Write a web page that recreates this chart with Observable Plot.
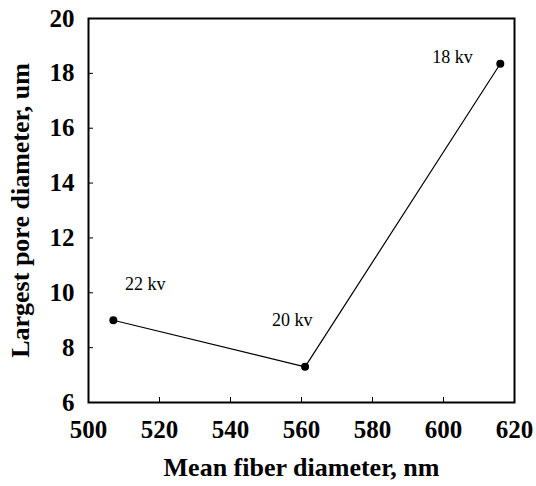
<!DOCTYPE html>
<html>
<head>
<meta charset="utf-8">
<script src="https://cdn.jsdelivr.net/npm/d3@7"></script>
<script src="https://cdn.jsdelivr.net/npm/@observablehq/plot@0.6"></script>
<style>
  html, body { margin: 0; padding: 0; background: #fff; }
</style>
</head>
<body>
<div id="chart"></div>
<script>
const fiberDiameter = [507, 561, 616];
const poreDiameter = [9.0, 7.3, 18.35];
const voltageLabels = ["22 kv", "20 kv", "18 kv"];
const labelX = [516, 557.4, 602.5];
const labelY = [10.3, 9.0, 18.6];
const xTicks = [500, 520, 540, 560, 580, 600, 620];
const yTicks = [6, 8, 10, 12, 14, 16, 18, 20];

const points = fiberDiameter.map((x, i) => ({x, y: poreDiameter[i]}));
const labels = voltageLabels.map((t, i) => ({t, x: labelX[i], y: labelY[i]}));

const font = "Liberation Serif";

const chart = Plot.plot({
  width: 536,
  height: 486,
  marginLeft: 88,
  marginRight: 22,
  marginTop: 18,
  marginBottom: 84,
  style: {fontFamily: font, background: "#fff", color: "#000"},
  x: {domain: [500, 620]},
  y: {domain: [6, 20]},
  marks: [
    Plot.axisX({ticks: xTicks, tickSize: -5, tickFormat: () => "", label: null}),
    Plot.axisY({ticks: yTicks, tickSize: -5, tickFormat: () => "", label: null}),
    Plot.axisX({ticks: xTicks, tickSize: 0, tickPadding: 18, fontSize: 25, fontWeight: "bold", fontFamily: font, label: null}),
    Plot.axisY({ticks: yTicks, tickSize: 0, tickPadding: 14, fontSize: 25, fontWeight: "bold", fontFamily: font, label: null}),
    Plot.frame({stroke: "#000", strokeWidth: 2}),
    Plot.line(points, {x: "x", y: "y", stroke: "#000", strokeWidth: 1.2}),
    Plot.dot(points, {x: "x", y: "y", r: 4, fill: "#000", stroke: "none"}),
    Plot.text(labels, {x: "x", y: "y", text: "t", fontSize: 18, fontFamily: font, fill: "#000", ariaLabel: "voltage labels"}),
    Plot.text(["Mean fiber diameter, nm"], {frameAnchor: "bottom", textAnchor: "middle", dy: 73, text: d => d, fontSize: 26, fontWeight: "bold", fontFamily: font, fill: "#000", ariaLabel: "x title"}),
    Plot.text(["Largest pore diameter, um"], {frameAnchor: "left", textAnchor: "middle", dx: -68, rotate: -90, text: d => d, fontSize: 26, fontWeight: "bold", fontFamily: font, fill: "#000", ariaLabel: "y title"})
  ]
});
document.getElementById("chart").appendChild(chart);
</script>
</body>
</html>
